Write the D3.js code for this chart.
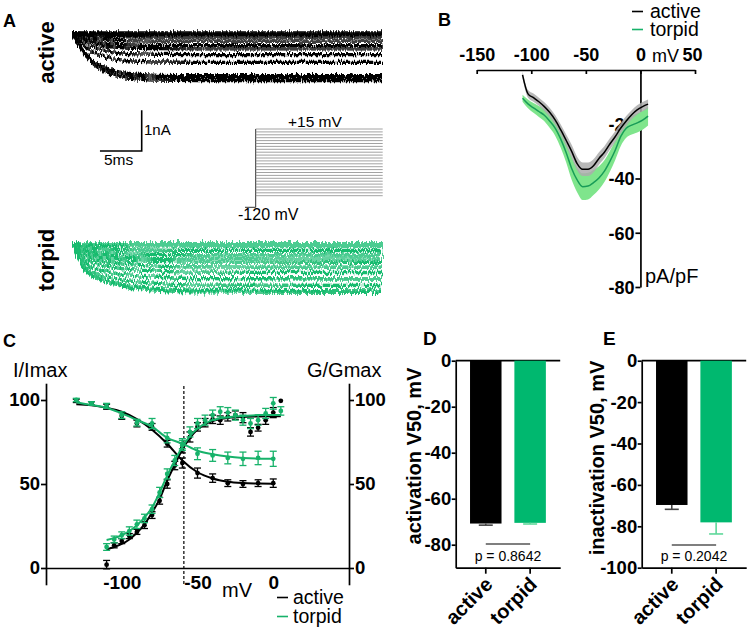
<!DOCTYPE html>
<html><head><meta charset="utf-8">
<script src="https://cdn.jsdelivr.net/npm/d3@7"></script>
<style>
body{margin:0;background:#fff}
svg{font-family:"Liberation Sans",Arial,Helvetica,sans-serif;display:block}
</style></head><body>
<svg id="fig" width="750" height="631"></svg>
<script>
// ================= DATA =================
// Panel A: current traces (nA) and voltage protocol (mV)
const traceTimeMs     = [0, 0.5, 1, 2, 3, 4, 5, 6, 8, 10, 15, 37];
const activeKinetics  = [0, 0.2, 0.35, 0.58, 0.73, 0.82, 0.89, 0.93, 0.97, 0.99, 1, 1];
const torpidKinetics  = [0, 0.25, 0.45, 0.62, 0.72, 0.78, 0.83, 0.87, 0.92, 0.95, 0.99, 1];
const activeSteadyNA  = [0, 0.02, 0.04, 0.07, 0.1, 0.2, 0.31, 0.39, 0.53, 0.72, 1.05, 1.1, 1.17];
const torpidSteadyNA  = [0, 0.05, 0.16, 0.27, 0.37, 0.45, 0.57, 0.7, 0.86, 1.02, 1.15, 1.19];
const protocolHold_mV = -120;
const protocolSteps_mV = [-100, -95, -90, -85, -80, -75, -70, -65, -60, -55, -50, -45, -40, -35, -30, -25, -20, -15, -10, -5, 0, 5, 10, 15];

// Panel B: I-V relationship (pA/pF), mean and SEM
const ivVoltage    = [-108, -103, -98, -93, -88, -83, -78, -73, -68, -63, -58, -53, -48, -43, -38, -33, -28, -23, -18, -13, -8, -3, 2, 7];
const ivActive     = [-1.8, -8.8, -10.2, -11.7, -13.5, -15.7, -18.5, -22.1, -26, -30, -34.5, -36.6, -36.6, -35.3, -32.6, -30.3, -27.3, -24.5, -21.4, -18.8, -16.5, -14.7, -13.5, -12.6];
const ivActiveSem  = [1.2, 1.4, 1.5, 1.5, 1.6, 1.7, 1.8, 2, 2.2, 2.4, 2.5, 2.5, 2.5, 2.4, 2.3, 2.2, 2.1, 2, 1.9, 1.8, 1.7, 1.7, 1.7, 1.7];
const ivTorpid     = [-10.4, -12.5, -14, -15.3, -16.7, -18.9, -21.5, -25.5, -30.5, -36.3, -40.5, -43, -42.8, -41.5, -39.8, -37.3, -33.7, -29.5, -24.5, -21.5, -20.3, -19.5, -18.5, -17];
const ivTorpidSem  = [1.3, 1.6, 1.8, 2, 2.2, 2.5, 2.8, 3.2, 3.6, 4.2, 4.6, 4.9, 4.9, 4.6, 4.3, 4, 3.8, 3.6, 3.5, 3.5, 3.5, 3.5, 3.5, 3.5];

// Panel C: steady-state inactivation (I/Imax, %) and activation (G/Gmax, %)
const inactV          = [-130, -120, -110, -100, -90, -80, -70, -60, -50, -40, -30, -20, -10, 0];
const inactActive     = [99.5, 98, 96, 90.5, 86, 84, 74, 62.5, 56.5, 53.5, 50.5, 50, 50.5, 50.5];
const inactActiveErr  = [1, 1, 1.5, 2, 2, 2, 2, 3, 3, 2.5, 2, 2, 2, 2.5];
const inactTorpid     = [100, 98, 96.5, 91, 86.5, 86, 77.5, 74, 68, 67, 65.5, 65, 65.5, 65];
const inactTorpidErr  = [1, 1, 1.5, 2, 2, 3, 3, 3, 3.5, 3.5, 3.5, 4, 4, 4.5];
const inactFitActive  = [97.4, 96.8, 95.3, 93, 88.6, 82.3, 74, 64, 57, 53.3, 51.4, 50.6, 50.3, 50.1];
const inactFitTorpid  = [98.6, 97, 95.4, 92, 88.1, 84.1, 77.5, 74, 69.8, 67.7, 66.3, 65.5, 65.1, 65];

const actV            = [-110, -105, -100, -95, -90, -85, -80, -75, -70, -65, -60, -55, -50, -45, -40, -35, -30, -25, -20, -15, -10, -5, 0, 5];
const actActive       = [2, 13.5, 16, 19, 21.5, 25.5, 31.5, 40, 50, 61, 71.5, 78, 84, 86.5, 88.5, 88, 90, 91, 89.5, 81, 83.5, 88, 92.5, 99.5];
const actActiveErr    = [2.5, 1.5, 1.5, 1.5, 1.5, 2, 2, 2, 2.5, 2.5, 3, 3, 2.5, 2.5, 2.5, 2.5, 2.5, 2.5, 3, 2.5, 2, 2.5, 3, 0];
const actTorpid       = [12.5, 17, 19.5, 22, 26, 29.5, 35, 45, 56, 64, 73, 81, 86, 88, 91, 93, 92.5, 91, 88, 86, 88, 92, 98, 93.5];
const actTorpidErr    = [2, 2, 2, 2.5, 2.5, 2.5, 2.5, 3, 3, 3, 3, 3, 3, 3, 3, 3, 3, 3, 3, 3, 3, 3, 3.5, 2.5];
const actFitV         = [-110, -105, -100, -95, -90, -85, -80, -75, -70, -65, -60, -55, -50, -45, -40, -30, -20, -10, 0, 5];
const actFitActive    = [11, 12.5, 14.3, 17, 21, 26, 33, 41, 52, 61.5, 70.5, 77.5, 82.5, 85.5, 87.5, 89.3, 90, 90.2, 90.3, 90.3];
const actFitTorpid    = [16.7, 17.8, 19.5, 22, 25.5, 30, 36, 45, 55, 64, 72, 78.5, 83, 86, 88, 89.8, 90.5, 91, 91, 91];
const dividerV        = -59;

// Panels D, E
const groups          = ["active", "torpid"];
const actV50          = [-70.8, -70.5];
const actV50Err       = [0.7, 0.5];
const inactV50        = [-69.7, -78.1];
const inactV50Err     = [2.1, 5.6];
const pActivation     = "p = 0.8642";
const pInactivation   = "p = 0.2042";

// ================= STYLE =================
const FONT = "'Liberation Sans', Arial, Helvetica, sans-serif";
const GREEN_LINE = "#17b26a";
const GREEN_BAR = "#00b86f";
const GREEN_TRACE = "#16bb6e";
const GREEN_IV = "#189c58";
const GREEN_BAND = "#7fe58c";
const GRAY_BAND = "#acacac";
const AXW = 1.7;

const svg = d3.select("#fig");
const defs = svg.append("defs");

function noiseFilter(id, scale, seed) {
  const f = defs.append("filter").attr("id", id)
    .attr("x", "-2%").attr("y", "-25%").attr("width", "104%").attr("height", "150%");
  f.append("feTurbulence").attr("type", "fractalNoise").attr("baseFrequency", "0.75 0.06")
    .attr("numOctaves", 2).attr("seed", seed).attr("result", "n");
  f.append("feDisplacementMap").attr("in", "SourceGraphic").attr("in2", "n").attr("scale", scale)
    .attr("xChannelSelector", "R").attr("yChannelSelector", "G").attr("result", "d");
  f.append("feMorphology").attr("in", "d").attr("operator", "dilate").attr("radius", "0 0.8");
}
noiseFilter("noiseActive", 6, 3);
noiseFilter("noiseTorpid", 8, 7);

function styleAxis(g, size, bold) {
  g.attr("font-family", FONT).attr("font-size", size).attr("font-weight", bold ? "bold" : "normal");
  g.select(".domain").attr("stroke", "#000").attr("stroke-width", AXW);
  g.selectAll(".tick line").attr("stroke", "#000").attr("stroke-width", AXW);
  g.selectAll(".tick text").attr("fill", "#000");
}
function label(x, y, txt, size, bold, anchor) {
  return svg.append("text").attr("x", x).attr("y", y).text(txt)
    .attr("font-family", FONT).attr("font-size", size)
    .attr("font-weight", bold ? "bold" : "normal")
    .attr("text-anchor", anchor || "start").attr("fill", "#000");
}
// two-line legend as a single text block
function legend(x, y, dy, lineX, names, colors, size) {
  names.forEach((n, i) => {
    svg.append("line").attr("x1", lineX).attr("x2", lineX + 11)
      .attr("y1", y + i * dy - 6.5).attr("y2", y + i * dy - 6.5)
      .attr("stroke", colors[i]).attr("stroke-width", 1.6);
  });
  const t = svg.append("text").attr("font-family", FONT).attr("font-size", size).attr("fill", "#000");
  names.forEach((n, i) => t.append("tspan").attr("x", x).attr("y", y + i * dy).text(n));
}
const fmt = d => String(d);

// ================= PANEL A =================
label(3, 27, "A", 18, true);
svg.append("text").attr("transform", "translate(54,52.5) rotate(-90)").attr("text-anchor", "middle")
  .attr("font-family", FONT).attr("font-size", 22).attr("font-weight", "bold").text("active");
svg.append("text").attr("transform", "translate(54,260) rotate(-90)").attr("text-anchor", "middle")
  .attr("font-family", FONT).attr("font-size", 22).attr("font-weight", "bold").text("torpid");

const tA = d3.scaleLinear().domain([0, 37]).range([73, 382]);
const pxPerNA = 40.7;
const iActive = d3.scaleLinear().domain([0, 1]).range([33, 33 + pxPerNA]);
const iTorpid = d3.scaleLinear().domain([0, 1]).range([244, 244 + pxPerNA]);
const traceLine = d3.line().curve(d3.curveMonotoneX);

const gTa = svg.append("g").attr("filter", "url(#noiseActive)");
activeSteadyNA.forEach(a => {
  gTa.append("path").attr("fill", "none").attr("stroke", "#000").attr("stroke-width", 1.3)
    .attr("d", traceLine(traceTimeMs.map((t, i) => [tA(t), iActive(a * activeKinetics[i])])));
});
const gTt = svg.append("g").attr("filter", "url(#noiseTorpid)");
torpidSteadyNA.forEach(a => {
  gTt.append("path").attr("fill", "none").attr("stroke", GREEN_TRACE).attr("stroke-width", 1.3)
    .attr("d", traceLine(traceTimeMs.map((t, i) => [tA(t), iTorpid(a * torpidKinetics[i])])));
});

// scale bar: 5 ms, 1 nA
const sbX = 141.7, sbY = 151;
const sbW = tA(5) - tA(0), sbH = iActive(1) - iActive(0);
svg.append("path").attr("fill", "none").attr("stroke", "#000").attr("stroke-width", 1.6)
  .attr("d", `M${sbX - sbW},${sbY}H${sbX}V${sbY - sbH}`);
label(144, 135, "1nA", 15, false);
label(104, 165, "5ms", 15.5, false);

// voltage protocol
const vP = d3.scaleLinear().domain([-120, 15]).range([207.3, 129]);
const tP = d3.scaleLinear().domain([0, 1]).range([255.7, 382.7]);
const gP = svg.append("g").attr("stroke", "#8a8a8a").attr("stroke-width", 0.8).attr("fill", "none");
gP.append("path").attr("stroke", "#333").attr("stroke-width", 1)
  .attr("d", `M245,${vP(protocolHold_mV)}H${tP(0)}V${vP(d3.max(protocolSteps_mV))}`);
protocolSteps_mV.forEach(v => gP.append("line").attr("x1", tP(0)).attr("x2", tP(1)).attr("y1", vP(v)).attr("y2", vP(v)));
label(288, 126.5, "+15 mV", 15.5, false);
label(238, 220, "-120 mV", 16, false);

// ================= PANEL B =================
label(438, 26, "B", 18, true);
const xB = d3.scaleLinear().domain([-150, 50]).range([476.7, 695]);
const yB = d3.scaleLinear().domain([0, -80]).range([70, 287]);
const gBx = svg.append("g").attr("transform", `translate(0,${yB(0)})`)
  .call(d3.axisTop(xB).tickValues([-150, -100, -50, 0, 50]).tickFormat(fmt).tickSizeInner(-4).tickSizeOuter(0).tickPadding(9));
styleAxis(gBx, 18, true);
gBx.selectAll(".tick").filter(d => d === 50).select("text").attr("dx", -3);
const gBy = svg.append("g").attr("transform", `translate(${xB(0)},0)`)
  .call(d3.axisLeft(yB).tickValues([-20, -40, -60, -80]).tickFormat(fmt).tickSize(5).tickSizeOuter(0).tickPadding(1));
styleAxis(gBy, 18, true);
gBy.selectAll(".tick text").attr("dy", "0.36em");
label(652, 62, "mV", 18, false);
label(645, 283, "pA/pF", 20, false);

const ivRows = ivVoltage.map((v, i) => ({v, a: ivActive[i], as: ivActiveSem[i], t: ivTorpid[i], ts: ivTorpidSem[i]}));
const areaB = (k, s) => d3.area().curve(d3.curveMonotoneX).x(d => xB(d.v)).y0(d => yB(d[k] - d[s])).y1(d => yB(d[k] + d[s]));
const lineB = k => d3.line().curve(d3.curveMonotoneX).x(d => xB(d.v)).y(d => yB(d[k]));
svg.append("path").datum(ivRows).attr("fill", GREEN_BAND).attr("d", areaB("t", "ts"));
svg.append("path").datum(ivRows).attr("fill", GRAY_BAND).attr("opacity", 0.85).attr("d", areaB("a", "as"));
svg.append("path").datum(ivRows).attr("fill", "none").attr("stroke", GREEN_IV).attr("stroke-width", 1.5).attr("d", lineB("t"));
svg.append("path").datum(ivRows).attr("fill", "none").attr("stroke", "#000").attr("stroke-width", 1.5).attr("d", lineB("a"));

legend(650, 18, 18, 632, groups, ["#000", GREEN_LINE], 19.5);

// ================= PANEL C =================
label(3, 347, "C", 18, true);
const xC = d3.scaleLinear().domain([-150, 50]).range([46, 349]);
const yC = d3.scaleLinear().domain([-10, 110]).range([584.8, 383.2]);
const gCl = svg.append("g").attr("transform", `translate(${xC(-150)},0)`)
  .call(d3.axisLeft(yC).tickValues([0, 50, 100]).tickFormat(fmt).tickSize(5).tickSizeOuter(0).tickPadding(1));
styleAxis(gCl, 18.5, true);
const gCr = svg.append("g").attr("transform", `translate(${xC(50)},0)`)
  .call(d3.axisRight(yC).tickValues([0, 50, 100]).tickFormat(fmt).tickSize(5).tickSizeOuter(0).tickPadding(1));
styleAxis(gCr, 18.5, true);
const gCx = svg.append("g").attr("transform", `translate(0,${yC(0)})`)
  .call(d3.axisBottom(xC).tickValues([-100, -50, 0]).tickFormat(fmt).tickSize(0).tickSizeOuter(0).tickPadding(8));
styleAxis(gCx, 19, true);
label(13, 377, "I/Imax", 20, false);
label(307, 377, "G/Gmax", 20, false);
label(222, 597, "mV", 20, false);

svg.append("line").attr("x1", xC(dividerV)).attr("x2", xC(dividerV)).attr("y1", 386).attr("y2", 584)
  .attr("stroke", "#000").attr("stroke-width", 1.2).attr("stroke-dasharray", "3,2");

const lineC = d3.line().curve(d3.curveMonotoneX).x(d => xC(d[0])).y(d => yC(d[1]));
function fit(vs, ys, color) {
  svg.append("path").attr("fill", "none").attr("stroke", color).attr("stroke-width", 2)
    .attr("d", lineC(vs.map((v, i) => [v, ys[i]])));
}
function points(vs, ys, es, color) {
  const g = svg.append("g").attr("stroke", color).attr("fill", color).attr("stroke-width", 1.3);
  vs.forEach((v, i) => {
    const x = xC(v), y = yC(ys[i]);
    if (es[i] > 0) {
      const y0 = yC(ys[i] - es[i]), y1 = yC(ys[i] + es[i]);
      g.append("line").attr("x1", x).attr("x2", x).attr("y1", y0).attr("y2", y1);
      g.append("line").attr("x1", x - 3.5).attr("x2", x + 3.5).attr("y1", y0).attr("y2", y0);
      g.append("line").attr("x1", x - 3.5).attr("x2", x + 3.5).attr("y1", y1).attr("y2", y1);
    }
    g.append("circle").attr("cx", x).attr("cy", y).attr("r", 2.4).attr("stroke", "none");
  });
}
fit(inactV, inactFitActive, "#000");
fit(actFitV, actFitActive, "#000");
points(inactV, inactActive, inactActiveErr, "#000");
points(actV, actActive, actActiveErr, "#000");
fit(inactV, inactFitTorpid, GREEN_LINE);
fit(actFitV, actFitTorpid, GREEN_LINE);
points(inactV, inactTorpid, inactTorpidErr, GREEN_LINE);
points(actV, actTorpid, actTorpidErr, GREEN_LINE);

legend(293, 604, 19, 277, groups, ["#000", GREEN_LINE], 19.5);

// ================= PANELS D & E =================
function barPanel(opt) {
  label(opt.letterX, 345, opt.letter, 19, true);
  const x = d3.scaleBand().domain(groups).range([opt.x0, opt.x0 + 104.5]).paddingInner(0.29).paddingOuter(0.323);
  const y = d3.scaleLinear().domain([0, opt.min]).range([360.7, 567.7]);
  const gy = svg.append("g").attr("transform", `translate(${opt.x0},0)`)
    .call(d3.axisLeft(y).tickValues(opt.ticks).tickFormat(fmt).tickSize(4).tickSizeOuter(0).tickPadding(0.5));
  styleAxis(gy, 18.5, true);
  const gb = svg.append("g").attr("transform", `translate(0,${y(opt.min)})`)
    .call(d3.axisBottom(x).tickSize(6).tickSizeOuter(0));
  styleAxis(gb, 20, true);
  gb.selectAll(".tick text").attr("y", 0).attr("dy", 0).attr("text-anchor", "end")
    .attr("transform", "translate(8,18) rotate(-45)");
  svg.append("line").attr("x1", opt.x0).attr("x2", opt.x0 + 104.5).attr("y1", y(0)).attr("y2", y(0))
    .attr("stroke", "#000").attr("stroke-width", AXW);
  const colors = ["#000", GREEN_BAR];
  const capColors = ["#444", "#5fd89a"];
  groups.forEach((gname, i) => {
    const v = opt.values[i], e = opt.errs[i];
    const cx = x(gname) + x.bandwidth() / 2;
    svg.append("rect").attr("x", x(gname)).attr("width", x.bandwidth())
      .attr("y", y(0)).attr("height", y(v) - y(0)).attr("fill", colors[i]);
    svg.append("line").attr("x1", cx).attr("x2", cx).attr("y1", y(v)).attr("y2", y(v - e))
      .attr("stroke", capColors[i]).attr("stroke-width", 1.6);
    svg.append("line").attr("x1", cx - 7).attr("x2", cx + 7).attr("y1", y(v - e)).attr("y2", y(v - e))
      .attr("stroke", capColors[i]).attr("stroke-width", 1.6);
  });
  const c0 = x(groups[0]) + x.bandwidth() / 2, c1 = x(groups[1]) + x.bandwidth() / 2;
  svg.append("line").attr("x1", c0).attr("x2", c1).attr("y1", opt.pLineY).attr("y2", opt.pLineY)
    .attr("stroke", "#000").attr("stroke-width", 1.2);
  label((c0 + c1) / 2, 561, opt.pText, 14, false, "middle");
  svg.append("text").attr("transform", `translate(${opt.titleX},${opt.titleY}) rotate(-90)`)
    .attr("text-anchor", "middle").attr("font-family", FONT).attr("font-size", 20)
    .attr("font-weight", "bold").text(opt.title);
}
barPanel({letter: "D", letterX: 423, x0: 455.7, min: -90, ticks: [0, -20, -40, -60, -80],
  values: actV50, errs: actV50Err, pText: pActivation, pLineY: 544,
  title: "activation V50, mV", titleX: 421, titleY: 456});
barPanel({letter: "E", letterX: 603, x0: 641.7, min: -100, ticks: [0, -20, -40, -60, -80, -100],
  values: inactV50, errs: inactV50Err, pText: pInactivation, pLineY: 545,
  title: "inactivation V50, mV", titleX: 604, titleY: 458});
</script>
</body></html>
